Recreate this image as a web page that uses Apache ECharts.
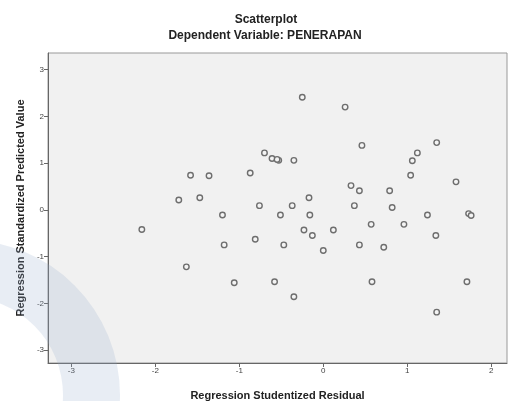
<!DOCTYPE html>
<html>
<head>
  <meta charset="UTF-8">
  <title>Scatterplot</title>
  <style>
    html, body { margin: 0; padding: 0; background: #fff; }
  </style>
</head>
<body>
  <div id="chart" style="width: 508px; height: 401px;"></div>
  <script src="https://cdn.jsdelivr.net/npm/echarts@6/dist/echarts.min.js"></script>
  <script>
    // residual (x) and predicted value (y)
    const studentizedResidual = [
      -1.58, -1.36, -1.72, -1.47, -0.87, -0.70, -0.61, -0.53, -0.55, -0.35,
      -0.25, 0.26, 0.46, 1.35, 1.12, 1.06, 1.04, 1.58, 0.33, 0.43,
      0.79, -0.17, -0.37, 0.37, 0.82, -0.76, -1.20, -0.51, -0.16, 1.24,
      1.73, 1.76, -2.16, -0.23, -0.13, 0.12, 0.57, 0.96, 1.34, -1.18,
      -0.81, -0.47, 0.00, 0.43, 0.72, -1.63, -1.06, -0.58, 0.58, 1.71,
      -0.35, 1.35
    ];
    const standardizedPredicted = [
      0.74, 0.73, 0.21, 0.26, 0.79, 1.22, 1.10, 1.06, 1.08, 1.06,
      2.41, 2.20, 1.38, 1.44, 1.22, 1.05, 0.74, 0.60, 0.52, 0.41,
      0.41, 0.26, 0.09, 0.09, 0.05, 0.09, -0.11, -0.11, -0.11, -0.11,
      -0.08, -0.12, -0.42, -0.43, -0.55, -0.43, -0.31, -0.31, -0.55, -0.75,
      -0.63, -0.75, -0.87, -0.75, -0.80, -1.22, -1.56, -1.54, -1.54, -1.54,
      -1.86, -2.19
    ];
    const yTickValues = [-3, -2, -1, 0, 1, 2, 3];
    const xTickValues = [-3, -2, -1, 0, 1, 2];

    const points = studentizedResidual.map((x, i) => [x, standardizedPredicted[i]]);

    const font = 'Liberation Sans, Arial, sans-serif';
    const chart = echarts.init(document.getElementById('chart'));
    chart.setOption({
      animation: false,
      backgroundColor: '#fff',
      title: [{
        text: 'Scatterplot',
        left: 261, top: 9, textAlign: 'center',
        textStyle: { fontFamily: font, fontSize: 12, fontWeight: 'bold', color: '#222' }
      }, {
        text: 'Dependent Variable: PENERAPAN',
        left: 260, top: 25, textAlign: 'center',
        textStyle: { fontFamily: font, fontSize: 12, fontWeight: 'bold', color: '#222' }
      }],
      grid: {
        left: 48, top: 53, right: 1, bottom: 38,
        outerBoundsMode: 'none',
        show: true,
        backgroundColor: '#f1f1f1',
        borderColor: '#999',
        borderWidth: 1
      },
      xAxis: {
        type: 'value',
        min: -3.277, max: 2.187,
        name: 'Regression Studentized Residual',
        nameLocation: 'middle',
        nameGap: 27,
        nameTextStyle: { fontFamily: font, fontSize: 11, fontWeight: 'bold', color: '#222' },
        splitLine: { show: false },
        axisLine: { onZero: false, lineStyle: { color: '#666' } },
        axisTick: { customValues: xTickValues, length: 4, lineStyle: { color: '#666' } },
        axisLabel: { customValues: xTickValues, margin: 4, fontFamily: font, fontSize: 8, color: '#444' }
      },
      yAxis: {
        type: 'value',
        min: -3.278, max: 3.358,
        name: 'Regression Standardized Predicted Value',
        nameLocation: 'middle',
        nameGap: 22,
        nameTextStyle: { fontFamily: font, fontSize: 11, fontWeight: 'bold', color: '#222' },
        splitLine: { show: false },
        axisLine: { show: true, onZero: false, lineStyle: { color: '#666' } },
        axisTick: { show: true, customValues: yTickValues, length: 4, lineStyle: { color: '#666' } },
        axisLabel: { customValues: yTickValues, margin: 4, fontFamily: font, fontSize: 8, color: '#444' }
      },
      // faint watermark ring in the lower left corner
      graphic: [{
        type: 'ring',
        z: 100,
        silent: true,
        shape: { cx: -35, cy: 395, r: 155, r0: 98 },
        style: { fill: 'rgba(150, 172, 205, 0.22)' }
      }],
      series: [{
        type: 'scatter',
        data: points,
        symbol: 'circle',
        symbolSize: 5.5,
        itemStyle: { color: '#f4f4f4', borderColor: '#6e6e6e', borderWidth: 1.4, opacity: 1 }
      }]
    });
  </script>
</body>
</html>
